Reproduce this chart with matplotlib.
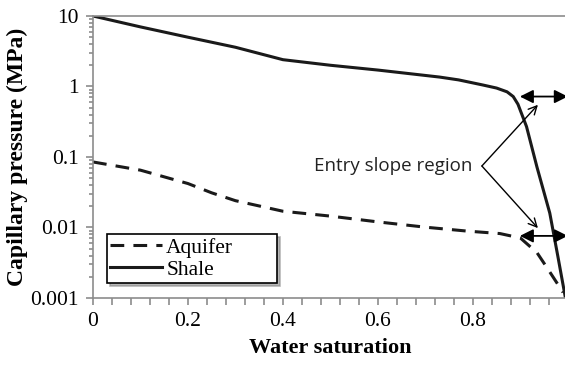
import matplotlib.pyplot as plt
from matplotlib.ticker import MultipleLocator, LogLocator, NullFormatter, FixedLocator

# water saturation vs capillary pressure (MPa)
sw_shale = [0, 0.1, 0.2, 0.3, 0.4, 0.5, 0.6, 0.73, 0.77, 0.821, 0.85, 0.872, 0.885, 0.895, 0.913,
            0.935, 0.962, 0.979, 0.995]
pc_shale = [10, 7.0, 5.0, 3.6, 2.4, 2.0, 1.71, 1.36, 1.24, 1.05, 0.95, 0.84, 0.72, 0.56, 0.27,
            0.072, 0.016, 0.0039, 0.001]

sw_aquifer = [0, 0.1, 0.2, 0.25, 0.3, 0.4, 0.5, 0.6, 0.7, 0.787, 0.857, 0.9, 0.935, 0.956, 0.99]
pc_aquifer = [0.085, 0.065, 0.042, 0.031, 0.024, 0.017, 0.0145, 0.012, 0.0101, 0.0089, 0.0082, 0.0071,
              0.0044, 0.0027, 0.0012]

y_ticks = [0.001, 0.01, 0.1, 1, 10]
y_labels = ['0.001', '0.01', '0.1', '1', '10']
x_ticks = [0, 0.2, 0.4, 0.6, 0.8]
x_labels = ['0', '0.2', '0.4', '0.6', '0.8']

label_text = 'Entry slope region'
label_pos = (0.798, 0.0745)
arrow_tips = [(0.937, 0.55), (0.937, 0.0098)]
entry_start = 0.899
entry_levels = [0.72, 0.0076]

serif = 'Liberation Serif'
grey = '#8c8c8c'

fig = plt.figure(figsize=(5.65, 3.65), dpi=100)
ax = fig.add_axes([0.1646, 0.1836, 1.005 - 0.1646, 0.7726])

ax.semilogy(sw_aquifer, pc_aquifer, color='#1a1a1a', lw=2.2, dashes=(4.5, 3), label='Aquifer')
ax.semilogy(sw_shale, pc_shale, color='#1a1a1a', lw=2.2, label='Shale')

ax.set_xlim(0, 1)
ax.set_ylim(0.001, 10)

ax.xaxis.set_major_locator(FixedLocator(x_ticks))
ax.set_xticklabels(x_labels)
ax.xaxis.set_minor_locator(MultipleLocator(0.04))
ax.yaxis.set_major_locator(FixedLocator(y_ticks))
ax.set_yticklabels(y_labels)
ax.yaxis.set_minor_locator(LogLocator(base=10, subs=range(2, 10)))
ax.yaxis.set_minor_formatter(NullFormatter())

for s in ['left', 'bottom', 'top']:
    ax.spines[s].set_color(grey)
    ax.spines[s].set_linewidth(1.2)
ax.spines['right'].set_visible(False)

ax.tick_params(which='both', direction='out', color=grey, width=1.2)
ax.tick_params(which='major', length=5, labelsize=15.5, pad=5)
ax.tick_params(axis='x', which='minor', length=5)
ax.tick_params(axis='y', which='minor', length=3)
for t in ax.get_xticklabels() + ax.get_yticklabels():
    t.set_fontfamily(serif)

ax.set_xlabel('Water saturation', fontsize=16, fontweight='bold', family=serif, labelpad=5)
ax.set_ylabel('Capillary pressure (MPa)', fontsize=17, fontweight='bold', family=serif, labelpad=2)

# entry slope arrows
for tip in arrow_tips:
    ax.annotate('', xy=tip, xytext=(0.819, 0.0745),
                arrowprops=dict(arrowstyle='->,head_length=0.6,head_width=0.3', color='black', lw=1,
                                shrinkA=0, shrinkB=0))
ax.text(label_pos[0], label_pos[1], label_text, ha='right', va='center',
        fontsize=13.5, family='Open Sans', color='#222222')

for lev in entry_levels:
    ax.annotate('', xy=(1.0, lev), xytext=(entry_start, lev), annotation_clip=False,
                arrowprops=dict(arrowstyle='<|-|>,head_length=1.0,head_width=0.5', color='black',
                                lw=1.3, shrinkA=0, shrinkB=0, mutation_scale=8))

leg = ax.legend(loc='lower left', bbox_to_anchor=(107 / 565, 1 - 283 / 365, 170 / 565, 54 / 365),
                bbox_transform=fig.transFigure, mode='expand', prop={'family': serif, 'size': 15.5},
                frameon=True, fancybox=False, shadow={'color': '#888888', 'alpha': 0.6},
                handlelength=2.4, handletextpad=0.2, borderpad=0.15, labelspacing=0.1,
                borderaxespad=0)
leg.get_frame().set_edgecolor('black')
leg.get_frame().set_linewidth(1.2)

fig.savefig('out.png', dpi=100)
